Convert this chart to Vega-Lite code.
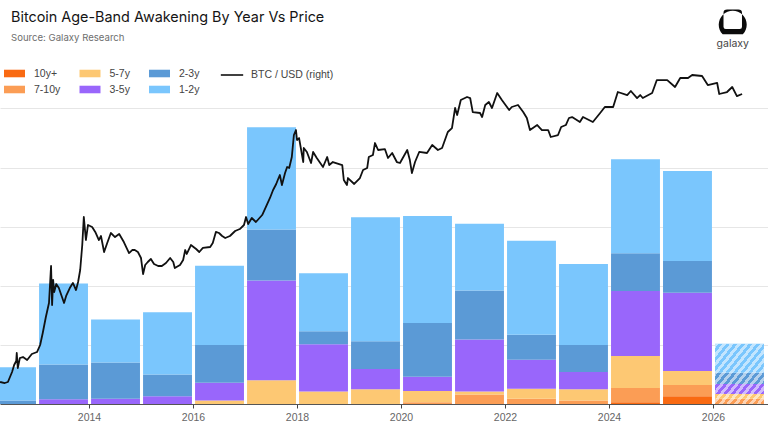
{
  "$schema": "https://vega.github.io/schema/vega-lite/v6.json",
  "width": 768,
  "height": 334,
  "autosize": {"type": "none"},
  "padding": {"left": 0, "top": 70, "right": 0, "bottom": 28},
  "background": "white",
  "config": {"view": {"stroke": null}},
  "title": {
    "text": "Bitcoin Age-Band Awakening By Year Vs Price",
    "subtitle": "Source: Galaxy Research",
    "anchor": "start",
    "frame": "group",
    "dx": 11,
    "offset": -34,
    "font": "Inter",
    "fontSize": 14.4,
    "fontWeight": 400,
    "color": "#151515",
    "subtitleFont": "Inter",
    "subtitleFontSize": 9.6,
    "subtitleColor": "#6e6e6e",
    "subtitlePadding": 7
  },
  "datasets": {
    "bands": [
      {"start": 2011.96, "end": 2012.98, "band": "2-3y", "rank": 5, "value": 0.06},
      {"start": 2011.96, "end": 2012.98, "band": "1-2y", "rank": 6, "value": 0.56},
      {"start": 2013.02, "end": 2013.98, "band": "3-5y", "rank": 4, "value": 0.08},
      {"start": 2013.02, "end": 2013.98, "band": "2-3y", "rank": 5, "value": 0.59},
      {"start": 2013.02, "end": 2013.98, "band": "1-2y", "rank": 6, "value": 1.37},
      {"start": 2014.02, "end": 2014.98, "band": "3-5y", "rank": 4, "value": 0.09},
      {"start": 2014.02, "end": 2014.98, "band": "2-3y", "rank": 5, "value": 0.61},
      {"start": 2014.02, "end": 2014.98, "band": "1-2y", "rank": 6, "value": 0.73},
      {"start": 2015.02, "end": 2015.98, "band": "3-5y", "rank": 4, "value": 0.13},
      {"start": 2015.02, "end": 2015.98, "band": "2-3y", "rank": 5, "value": 0.37},
      {"start": 2015.02, "end": 2015.98, "band": "1-2y", "rank": 6, "value": 1.05},
      {"start": 2016.02, "end": 2016.98, "band": "5-7y", "rank": 3, "value": 0.06},
      {"start": 2016.02, "end": 2016.98, "band": "3-5y", "rank": 4, "value": 0.30},
      {"start": 2016.02, "end": 2016.98, "band": "2-3y", "rank": 5, "value": 0.64},
      {"start": 2016.02, "end": 2016.98, "band": "1-2y", "rank": 6, "value": 1.34},
      {"start": 2017.02, "end": 2017.98, "band": "5-7y", "rank": 3, "value": 0.40},
      {"start": 2017.02, "end": 2017.98, "band": "3-5y", "rank": 4, "value": 1.69},
      {"start": 2017.02, "end": 2017.98, "band": "2-3y", "rank": 5, "value": 0.86},
      {"start": 2017.02, "end": 2017.98, "band": "1-2y", "rank": 6, "value": 1.73},
      {"start": 2018.02, "end": 2018.98, "band": "5-7y", "rank": 3, "value": 0.21},
      {"start": 2018.02, "end": 2018.98, "band": "3-5y", "rank": 4, "value": 0.80},
      {"start": 2018.02, "end": 2018.98, "band": "2-3y", "rank": 5, "value": 0.22},
      {"start": 2018.02, "end": 2018.98, "band": "1-2y", "rank": 6, "value": 0.98},
      {"start": 2019.02, "end": 2019.98, "band": "5-7y", "rank": 3, "value": 0.25},
      {"start": 2019.02, "end": 2019.98, "band": "3-5y", "rank": 4, "value": 0.34},
      {"start": 2019.02, "end": 2019.98, "band": "2-3y", "rank": 5, "value": 0.47},
      {"start": 2019.02, "end": 2019.98, "band": "1-2y", "rank": 6, "value": 2.10},
      {"start": 2020.02, "end": 2020.98, "band": "7-10y", "rank": 2, "value": 0.03},
      {"start": 2020.02, "end": 2020.98, "band": "5-7y", "rank": 3, "value": 0.19},
      {"start": 2020.02, "end": 2020.98, "band": "3-5y", "rank": 4, "value": 0.24},
      {"start": 2020.02, "end": 2020.98, "band": "2-3y", "rank": 5, "value": 0.91},
      {"start": 2020.02, "end": 2020.98, "band": "1-2y", "rank": 6, "value": 1.81},
      {"start": 2021.02, "end": 2021.98, "band": "7-10y", "rank": 2, "value": 0.16},
      {"start": 2021.02, "end": 2021.98, "band": "5-7y", "rank": 3, "value": 0.05},
      {"start": 2021.02, "end": 2021.98, "band": "3-5y", "rank": 4, "value": 0.88},
      {"start": 2021.02, "end": 2021.98, "band": "2-3y", "rank": 5, "value": 0.83},
      {"start": 2021.02, "end": 2021.98, "band": "1-2y", "rank": 6, "value": 1.13},
      {"start": 2022.02, "end": 2022.98, "band": "7-10y", "rank": 2, "value": 0.09},
      {"start": 2022.02, "end": 2022.98, "band": "5-7y", "rank": 3, "value": 0.17},
      {"start": 2022.02, "end": 2022.98, "band": "3-5y", "rank": 4, "value": 0.49},
      {"start": 2022.02, "end": 2022.98, "band": "2-3y", "rank": 5, "value": 0.42},
      {"start": 2022.02, "end": 2022.98, "band": "1-2y", "rank": 6, "value": 1.59},
      {"start": 2023.02, "end": 2023.98, "band": "7-10y", "rank": 2, "value": 0.06},
      {"start": 2023.02, "end": 2023.98, "band": "5-7y", "rank": 3, "value": 0.19},
      {"start": 2023.02, "end": 2023.98, "band": "3-5y", "rank": 4, "value": 0.29},
      {"start": 2023.02, "end": 2023.98, "band": "2-3y", "rank": 5, "value": 0.46},
      {"start": 2023.02, "end": 2023.98, "band": "1-2y", "rank": 6, "value": 1.37},
      {"start": 2024.02, "end": 2024.98, "band": "10y+", "rank": 1, "value": 0.03},
      {"start": 2024.02, "end": 2024.98, "band": "7-10y", "rank": 2, "value": 0.24},
      {"start": 2024.02, "end": 2024.98, "band": "5-7y", "rank": 3, "value": 0.54},
      {"start": 2024.02, "end": 2024.98, "band": "3-5y", "rank": 4, "value": 1.10},
      {"start": 2024.02, "end": 2024.98, "band": "2-3y", "rank": 5, "value": 0.64},
      {"start": 2024.02, "end": 2024.98, "band": "1-2y", "rank": 6, "value": 1.59},
      {"start": 2025.02, "end": 2025.98, "band": "10y+", "rank": 1, "value": 0.13},
      {"start": 2025.02, "end": 2025.98, "band": "7-10y", "rank": 2, "value": 0.19},
      {"start": 2025.02, "end": 2025.98, "band": "5-7y", "rank": 3, "value": 0.24},
      {"start": 2025.02, "end": 2025.98, "band": "3-5y", "rank": 4, "value": 1.32},
      {"start": 2025.02, "end": 2025.98, "band": "2-3y", "rank": 5, "value": 0.54},
      {"start": 2025.02, "end": 2025.98, "band": "1-2y", "rank": 6, "value": 1.52},
      {"start": 2026.02, "end": 2026.98, "band": "7-10y", "rank": 2, "value": 0.09},
      {"start": 2026.02, "end": 2026.98, "band": "5-7y", "rank": 3, "value": 0.08},
      {"start": 2026.02, "end": 2026.98, "band": "3-5y", "rank": 4, "value": 0.17},
      {"start": 2026.02, "end": 2026.98, "band": "2-3y", "rank": 5, "value": 0.19},
      {"start": 2026.02, "end": 2026.98, "band": "1-2y", "rank": 6, "value": 0.49}
    ],
    "btc": [
      {"t":2012.29,"v":0.344},{"t":2012.38,"v":0.328},{"t":2012.44,"v":0.344},{"t":2012.48,"v":0.422},{"t":2012.52,"v":0.5},{"t":2012.56,"v":0.609},{"t":2012.6,"v":0.672},{"t":2012.61,"v":0.797},{"t":2012.63,"v":0.562},{"t":2012.67,"v":0.719},{"t":2012.73,"v":0.734},{"t":2012.81,"v":0.688},{"t":2012.9,"v":0.781},{"t":2013.0,"v":0.812},{"t":2013.06,"v":0.922},{"t":2013.11,"v":1.109},{"t":2013.17,"v":1.359},{"t":2013.23,"v":1.578},{"t":2013.27,"v":2.156},{"t":2013.29,"v":1.547},{"t":2013.31,"v":1.938},{"t":2013.33,"v":1.75},{"t":2013.37,"v":1.875},{"t":2013.42,"v":1.812},{"t":2013.48,"v":1.672},{"t":2013.52,"v":1.578},{"t":2013.56,"v":1.688},{"t":2013.63,"v":1.812},{"t":2013.69,"v":1.891},{"t":2013.75,"v":1.781},{"t":2013.79,"v":1.906},{"t":2013.83,"v":2.094},{"t":2013.87,"v":2.484},{"t":2013.9,"v":2.922},{"t":2013.94,"v":2.562},{"t":2013.98,"v":2.797},
      {"t":2014.06,"v":2.766},{"t":2014.12,"v":2.688},{"t":2014.19,"v":2.562},{"t":2014.23,"v":2.625},{"t":2014.29,"v":2.375},{"t":2014.35,"v":2.516},{"t":2014.42,"v":2.672},{"t":2014.5,"v":2.609},{"t":2014.58,"v":2.656},{"t":2014.67,"v":2.531},{"t":2014.77,"v":2.359},{"t":2014.83,"v":2.406},{"t":2014.88,"v":2.406},{"t":2014.94,"v":2.375},{"t":2015.0,"v":2.281},{"t":2015.04,"v":2.031},{"t":2015.08,"v":2.172},{"t":2015.13,"v":2.219},{"t":2015.19,"v":2.266},{"t":2015.25,"v":2.188},{"t":2015.33,"v":2.156},{"t":2015.4,"v":2.156},{"t":2015.48,"v":2.203},{"t":2015.56,"v":2.281},{"t":2015.62,"v":2.219},{"t":2015.65,"v":2.125},{"t":2015.75,"v":2.172},{"t":2015.81,"v":2.25},{"t":2015.85,"v":2.406},{"t":2015.88,"v":2.344},{"t":2015.96,"v":2.484},
      {"t":2016.06,"v":2.422},{"t":2016.12,"v":2.375},{"t":2016.19,"v":2.438},{"t":2016.33,"v":2.453},{"t":2016.38,"v":2.516},{"t":2016.44,"v":2.688},{"t":2016.5,"v":2.672},{"t":2016.56,"v":2.625},{"t":2016.62,"v":2.594},{"t":2016.71,"v":2.625},{"t":2016.81,"v":2.703},{"t":2016.9,"v":2.734},{"t":2016.98,"v":2.797},{"t":2017.02,"v":2.922},{"t":2017.06,"v":2.812},{"t":2017.13,"v":2.906},{"t":2017.21,"v":2.844},{"t":2017.33,"v":2.953},{"t":2017.4,"v":3.078},{"t":2017.48,"v":3.219},{"t":2017.54,"v":3.344},{"t":2017.6,"v":3.438},{"t":2017.63,"v":3.5},{"t":2017.67,"v":3.578},{"t":2017.71,"v":3.422},{"t":2017.77,"v":3.609},{"t":2017.81,"v":3.703},{"t":2017.85,"v":3.688},{"t":2017.9,"v":3.859},{"t":2017.94,"v":4.203},{"t":2017.98,"v":4.281},
      {"t":2018.0,"v":4.125},{"t":2018.04,"v":4.156},{"t":2018.12,"v":3.781},{"t":2018.13,"v":4.0},{"t":2018.19,"v":3.938},{"t":2018.27,"v":3.766},{"t":2018.31,"v":3.938},{"t":2018.38,"v":3.844},{"t":2018.5,"v":3.703},{"t":2018.58,"v":3.859},{"t":2018.62,"v":3.734},{"t":2018.69,"v":3.781},{"t":2018.87,"v":3.734},{"t":2018.9,"v":3.5},{"t":2018.96,"v":3.422},{"t":2018.98,"v":3.531},{"t":2019.1,"v":3.438},{"t":2019.21,"v":3.531},{"t":2019.27,"v":3.656},{"t":2019.35,"v":3.688},{"t":2019.38,"v":3.859},{"t":2019.46,"v":3.891},{"t":2019.5,"v":4.078},{"t":2019.56,"v":3.969},{"t":2019.69,"v":3.984},{"t":2019.75,"v":3.844},{"t":2019.83,"v":3.922},{"t":2019.92,"v":3.781},{"t":2019.98,"v":3.766},
      {"t":2020.12,"v":3.969},{"t":2020.17,"v":3.812},{"t":2020.21,"v":3.609},{"t":2020.27,"v":3.781},{"t":2020.35,"v":3.938},{"t":2020.5,"v":3.922},{"t":2020.6,"v":4.047},{"t":2020.71,"v":3.969},{"t":2020.79,"v":4.0},{"t":2020.9,"v":4.25},{"t":2020.98,"v":4.312},{"t":2021.04,"v":4.625},{"t":2021.08,"v":4.516},{"t":2021.15,"v":4.75},{"t":2021.27,"v":4.797},{"t":2021.33,"v":4.781},{"t":2021.38,"v":4.562},{"t":2021.52,"v":4.547},{"t":2021.56,"v":4.484},{"t":2021.62,"v":4.672},{"t":2021.69,"v":4.719},{"t":2021.75,"v":4.625},{"t":2021.85,"v":4.859},{"t":2021.94,"v":4.75},
      {"t":2022.08,"v":4.594},{"t":2022.13,"v":4.641},{"t":2022.25,"v":4.672},{"t":2022.35,"v":4.562},{"t":2022.42,"v":4.469},{"t":2022.48,"v":4.281},{"t":2022.62,"v":4.359},{"t":2022.71,"v":4.281},{"t":2022.83,"v":4.281},{"t":2022.88,"v":4.172},{"t":2023.02,"v":4.203},{"t":2023.08,"v":4.328},{"t":2023.17,"v":4.359},{"t":2023.23,"v":4.469},{"t":2023.29,"v":4.484},{"t":2023.44,"v":4.406},{"t":2023.5,"v":4.484},{"t":2023.69,"v":4.406},{"t":2023.83,"v":4.547},{"t":2023.92,"v":4.641},
      {"t":2024.08,"v":4.641},{"t":2024.17,"v":4.875},{"t":2024.35,"v":4.828},{"t":2024.42,"v":4.891},{"t":2024.54,"v":4.781},{"t":2024.6,"v":4.828},{"t":2024.65,"v":4.781},{"t":2024.83,"v":4.859},{"t":2024.92,"v":5.062},{"t":2025.12,"v":5.062},{"t":2025.27,"v":4.953},{"t":2025.37,"v":5.094},{"t":2025.52,"v":5.094},{"t":2025.6,"v":5.141},{"t":2025.79,"v":5.125},{"t":2025.9,"v":4.984},{"t":2026.08,"v":5.016},{"t":2026.12,"v":4.844},{"t":2026.27,"v":4.875},{"t":2026.37,"v":4.953},{"t":2026.46,"v":4.812},{"t":2026.56,"v":4.844}
    ]
  },
  "resolve": {"scale": {"y": "independent"}, "axis": {"x": "independent", "y": "independent"}},
  "layer": [
    {
      "data": {"name": "bands"},
      "mark": {"type": "bar", "clip": true},
      "encoding": {
        "x": {
          "field": "start",
          "type": "quantitative",
          "bin": {"binned": true},
          "scale": {"domain": [2012.288, 2027.058], "nice": false, "zero": false},
          "axis": {
            "title": null,
            "values": [2014, 2016, 2018, 2020, 2022, 2024, 2026],
            "format": "d",
            "grid": false,
            "zindex": 1,
            "domainColor": "#555555",
            "tickColor": "#444444",
            "tickSize": 4,
            "labelColor": "#666666",
            "labelFont": "Liberation Sans",
            "labelFontSize": 10.5,
            "labelPadding": 4
          }
        },
        "x2": {"field": "end"},
        "y": {
          "field": "value",
          "type": "quantitative",
          "stack": "zero",
          "scale": {"domain": [0, 5.65], "nice": false},
          "axis": {
            "title": null,
            "values": [1, 2, 3, 4, 5],
            "labels": false,
            "ticks": false,
            "domain": false,
            "grid": true,
            "gridColor": "#e6e6e6",
            "gridWidth": 1
          }
        },
        "order": {"field": "rank", "type": "quantitative"},
        "color": {
          "field": "band",
          "type": "nominal",
          "scale": {
            "domain": ["10y+", "7-10y", "5-7y", "3-5y", "2-3y", "1-2y"],
            "range": ["#f96a12", "#fb9d55", "#fdc873", "#9966fb", "#5b9ad6", "#7ac6fd"]
          },
          "legend": {
            "title": null,
            "orient": "none",
            "legendX": 4,
            "legendY": -7,
            "columns": 3,
            "columnPadding": 18.5,
            "rowPadding": -1,
            "padding": 0,
            "symbolType": "M-1,-0.36H1V0.36H-1Z",
            "symbolSize": 441,
            "symbolStrokeWidth": 0,
            "labelFont": "Liberation Sans",
            "labelFontSize": 10.5,
            "labelColor": "#444444",
            "labelOffset": 9
          }
        }
      }
    },
    {
      "data": {"values": [{"start": 2026.02, "end": 2026.98, "total": 1.02}]},
      "mark": {
        "type": "bar",
        "fill": {
          "gradient": "linear",
          "x1": 0, "y1": 0, "x2": 1, "y2": 1,
          "stops": [
            {"offset": 0, "color": "rgba(255,255,255,0.55)"},{"offset": 0.038, "color": "rgba(255,255,255,0.55)"},{"offset": 0.038, "color": "rgba(255,255,255,0)"},{"offset": 0.077, "color": "rgba(255,255,255,0)"},
            {"offset": 0.077, "color": "rgba(255,255,255,0.55)"},{"offset": 0.115, "color": "rgba(255,255,255,0.55)"},{"offset": 0.115, "color": "rgba(255,255,255,0)"},{"offset": 0.154, "color": "rgba(255,255,255,0)"},
            {"offset": 0.154, "color": "rgba(255,255,255,0.55)"},{"offset": 0.192, "color": "rgba(255,255,255,0.55)"},{"offset": 0.192, "color": "rgba(255,255,255,0)"},{"offset": 0.231, "color": "rgba(255,255,255,0)"},
            {"offset": 0.231, "color": "rgba(255,255,255,0.55)"},{"offset": 0.269, "color": "rgba(255,255,255,0.55)"},{"offset": 0.269, "color": "rgba(255,255,255,0)"},{"offset": 0.308, "color": "rgba(255,255,255,0)"},
            {"offset": 0.308, "color": "rgba(255,255,255,0.55)"},{"offset": 0.346, "color": "rgba(255,255,255,0.55)"},{"offset": 0.346, "color": "rgba(255,255,255,0)"},{"offset": 0.385, "color": "rgba(255,255,255,0)"},
            {"offset": 0.385, "color": "rgba(255,255,255,0.55)"},{"offset": 0.423, "color": "rgba(255,255,255,0.55)"},{"offset": 0.423, "color": "rgba(255,255,255,0)"},{"offset": 0.462, "color": "rgba(255,255,255,0)"},
            {"offset": 0.462, "color": "rgba(255,255,255,0.55)"},{"offset": 0.5, "color": "rgba(255,255,255,0.55)"},{"offset": 0.5, "color": "rgba(255,255,255,0)"},{"offset": 0.538, "color": "rgba(255,255,255,0)"},
            {"offset": 0.538, "color": "rgba(255,255,255,0.55)"},{"offset": 0.577, "color": "rgba(255,255,255,0.55)"},{"offset": 0.577, "color": "rgba(255,255,255,0)"},{"offset": 0.615, "color": "rgba(255,255,255,0)"},
            {"offset": 0.615, "color": "rgba(255,255,255,0.55)"},{"offset": 0.654, "color": "rgba(255,255,255,0.55)"},{"offset": 0.654, "color": "rgba(255,255,255,0)"},{"offset": 0.692, "color": "rgba(255,255,255,0)"},
            {"offset": 0.692, "color": "rgba(255,255,255,0.55)"},{"offset": 0.731, "color": "rgba(255,255,255,0.55)"},{"offset": 0.731, "color": "rgba(255,255,255,0)"},{"offset": 0.769, "color": "rgba(255,255,255,0)"},
            {"offset": 0.769, "color": "rgba(255,255,255,0.55)"},{"offset": 0.808, "color": "rgba(255,255,255,0.55)"},{"offset": 0.808, "color": "rgba(255,255,255,0)"},{"offset": 0.846, "color": "rgba(255,255,255,0)"},
            {"offset": 0.846, "color": "rgba(255,255,255,0.55)"},{"offset": 0.885, "color": "rgba(255,255,255,0.55)"},{"offset": 0.885, "color": "rgba(255,255,255,0)"},{"offset": 0.923, "color": "rgba(255,255,255,0)"},
            {"offset": 0.923, "color": "rgba(255,255,255,0.55)"},{"offset": 0.962, "color": "rgba(255,255,255,0.55)"},{"offset": 0.962, "color": "rgba(255,255,255,0)"},{"offset": 1, "color": "rgba(255,255,255,0)"}
          ]
        }
      },
      "encoding": {
        "x": {"field": "start", "type": "quantitative", "bin": {"binned": true}, "axis": null},
        "x2": {"field": "end"},
        "y": {"field": "total", "type": "quantitative", "scale": {"domain": [0, 5.65], "nice": false}, "axis": null},
        "y2": {"datum": 0}
      }
    },
    {
      "data": {"name": "btc"},
      "transform": [{"calculate": "'BTC / USD (right)'", "as": "series"}],
      "mark": {"type": "line", "strokeWidth": 1.8, "strokeJoin": "round", "clip": true},
      "encoding": {
        "x": {"field": "t", "type": "quantitative", "axis": null},
        "y": {"field": "v", "type": "quantitative", "scale": {"domain": [0, 5.219], "nice": false, "zero": false}, "axis": null},
        "stroke": {
          "field": "series",
          "type": "nominal",
          "scale": {"domain": ["BTC / USD (right)"], "range": ["#111111"]},
          "legend": {
            "title": null,
            "orient": "none",
            "legendX": 220,
            "legendY": -7,
            "padding": 0,
            "symbolType": "stroke",
            "symbolSize": 500,
            "symbolStrokeWidth": 1.6,
            "labelFont": "Liberation Sans",
            "labelFontSize": 10.5,
            "labelColor": "#444444",
            "labelOffset": 7
          }
        }
      }
    },
    {
      "data": {"values": [{"t": 2026.38, "level": 6.49}]},
      "mark": {
        "type": "point",
        "filled": true,
        "clip": false,
        "color": "#0b0b0b",
        "opacity": 1,
        "size": 784,
        "shape": "M-0.72,1 A1,1 0 1 1 0.72,1 Z M-0.5,0.62 H0.5 Q0.66,0.62 0.66,0.46 V-0.55 Q0.66,-0.78 0.4,-0.78 H-0.4 Q-0.66,-0.78 -0.66,-0.55 V0.46 Q-0.66,0.62 -0.5,0.62 Z"
      },
      "encoding": {
        "x": {"field": "t", "type": "quantitative", "axis": null},
        "y": {"field": "level", "type": "quantitative", "scale": {"domain": [0, 5.65], "nice": false}, "axis": null}
      }
    },
    {
      "data": {"values": [{"t": 2026.38, "level": 6.09, "label": "galaxy"}]},
      "mark": {"type": "text", "clip": false, "font": "Inter", "fontSize": 10.5, "color": "#444444", "align": "center", "baseline": "middle"},
      "encoding": {
        "x": {"field": "t", "type": "quantitative", "axis": null},
        "y": {"field": "level", "type": "quantitative", "scale": {"domain": [0, 5.65], "nice": false}, "axis": null},
        "text": {"field": "label"}
      }
    }
  ]
}
